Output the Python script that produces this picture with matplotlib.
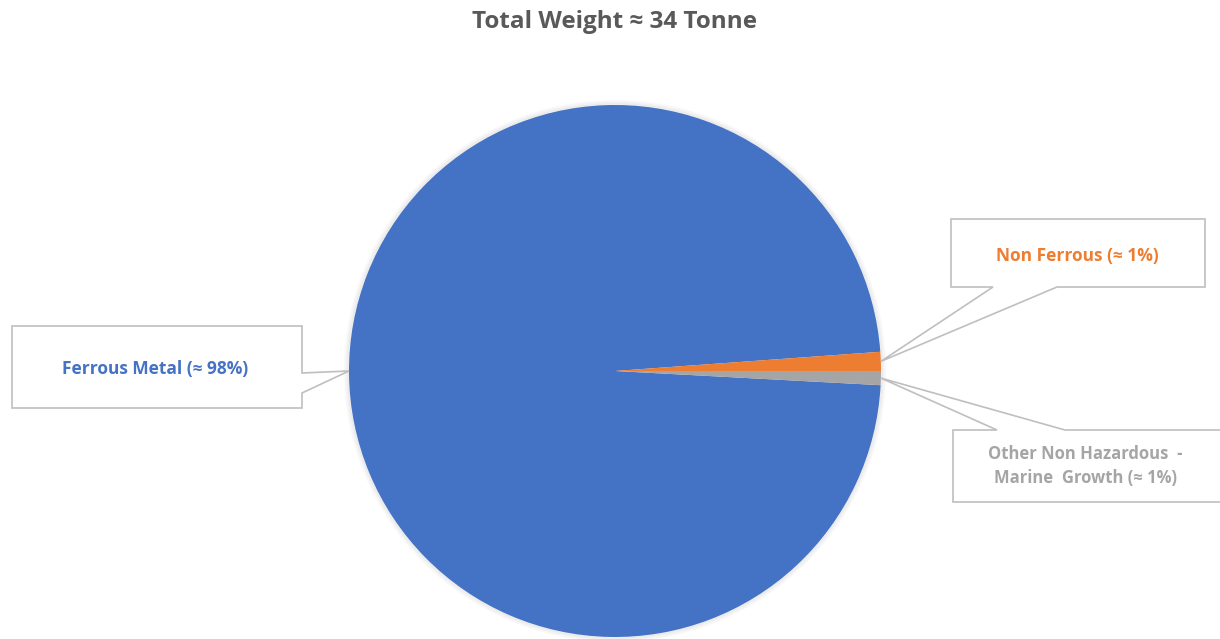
import matplotlib.pyplot as plt
import numpy as np
from matplotlib.patches import Polygon, Circle

# Waste breakdown (percent of total weight)
categories = ["Ferrous Metal", "Non Ferrous", "Other Non Hazardous - Marine Growth"]
shares = [98.0, 1.15, 0.85]
labels = ["Ferrous Metal (≈ 98%)", "Non Ferrous (≈ 1%)", "Other Non Hazardous  -\nMarine  Growth (≈ 1%)"]
colours = ["#4472C4", "#ED7D31", "#A5A5A5"]
title = "Total Weight ≈ 34 Tonne"

W, H = 1220, 639
CENTER = (615, H - 371)
RADIUS = 266
FONT = ["Open Sans", "DejaVu Sans"]
LINE = "#BFBFBF"


def px(x, y):
    """Convert top-left pixel coordinates to the axes' y-up system."""
    return (x, H - y)


def callout(axis, box, base, tip, side):
    """Draw an Excel-style callout box with a wedge pointing at the pie."""
    x0, y0, x1, y1 = box
    b0, b1 = base
    if side == "bottom":
        pts = [(x0, y0), (x1, y0), (x1, y1), (b1, y1), tip, (b0, y1), (x0, y1)]
    elif side == "top":
        pts = [(x0, y0), (b0, y0), tip, (b1, y0), (x1, y0), (x1, y1), (x0, y1)]
    else:  # right
        pts = [(x0, y0), (x1, y0), (x1, b0), tip, (x1, b1), (x1, y1), (x0, y1)]
    pts = [px(*p) if p is not tip else p for p in pts]
    axis.add_patch(Polygon(pts, closed=True, facecolor="white", edgecolor=LINE,
                           linewidth=1.2, zorder=5, clip_on=False))


def edge_point(angle_deg):
    a = np.deg2rad(angle_deg)
    return (CENTER[0] + RADIUS * np.cos(a), CENTER[1] + RADIUS * np.sin(a))


def main():
    fig = plt.figure(figsize=(W / 100, H / 100), dpi=100)
    axis = fig.add_axes([0, 0, 1, 1])
    axis.set_xlim(0, W)
    axis.set_ylim(0, H)
    axis.set_aspect("equal")
    axis.axis("off")

    # soft shadow around the pie
    for i, a in enumerate([0.05, 0.04, 0.03]):
        axis.add_patch(Circle(CENTER, RADIUS + 1.5 + i * 1.5, color="#808080", alpha=a, zorder=1))

    start = -shares[2] * 3.6
    wedges, _ = axis.pie(shares, colors=colours, startangle=start, counterclock=False,
                         center=CENTER, radius=RADIUS, frame=True,
                         wedgeprops=dict(linewidth=0, zorder=2))
    axis.set_xlim(0, W)
    axis.set_ylim(0, H)
    axis.axis("off")

    mids = [(w.theta1 + w.theta2) / 2 for w in wedges]
    tips = [edge_point(m) for m in mids]
    tips[0] = edge_point(180)

    callout(axis, (12, 326, 302, 408), (373, 393), tips[0], "right")
    callout(axis, (951, 219, 1205, 287), (993, 1057), tips[1], "bottom")
    callout(axis, (953, 430, 1232, 502), (997, 1065), tips[2], "top")

    axis.text(*px(155, 369), labels[0], ha="center", va="center", color=colours[0],
              fontsize=12.5, fontweight="bold", family=FONT, zorder=6)
    axis.text(*px(1077, 256), labels[1], ha="center", va="center", color=colours[1],
              fontsize=12.5, fontweight="bold", family=FONT, zorder=6)
    axis.text(*px(1085, 466), labels[2], ha="center", va="center", color=colours[2],
              fontsize=12, fontweight="bold", family=FONT, zorder=6, linespacing=1.4)

    axis.text(*px(614, 22), title, ha="center", va="center", color="#595959",
              fontsize=17.5, fontweight="bold", family=FONT)

    fig.savefig("out.png", dpi=100)
    plt.close(fig)


if __name__ == "__main__":
    main()
